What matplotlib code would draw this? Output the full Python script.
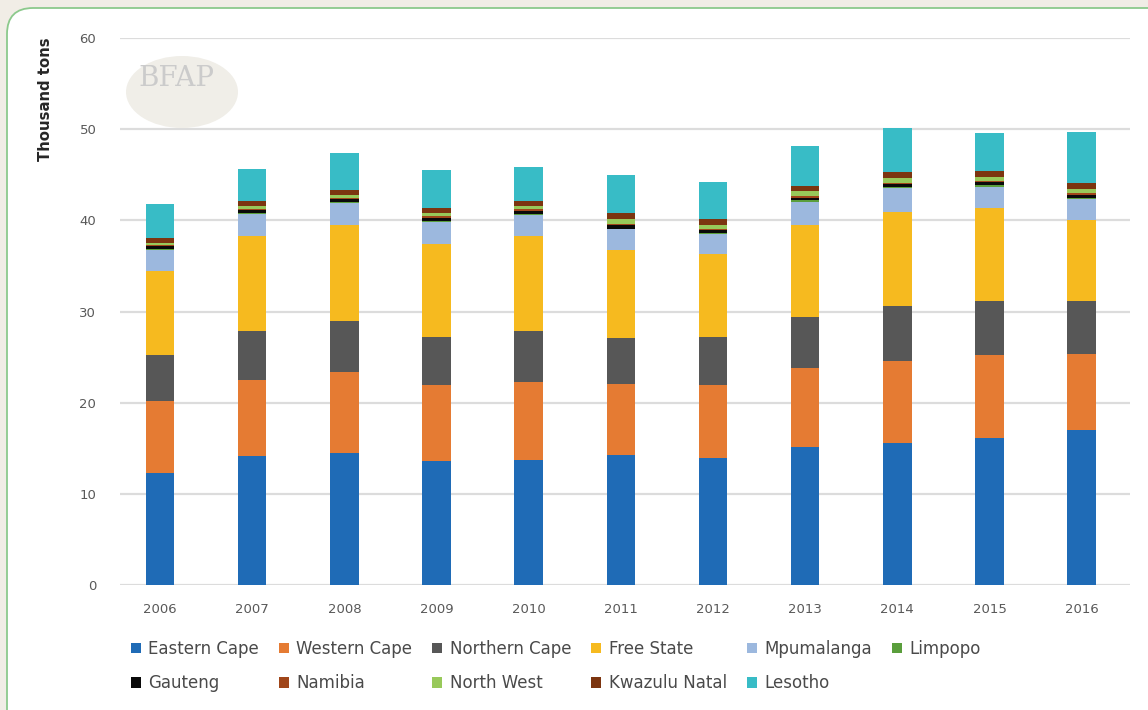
import matplotlib
matplotlib.use("Agg")
import matplotlib.pyplot as plt
import numpy as np
from matplotlib.patches import FancyBboxPatch, Ellipse
from matplotlib.transforms import IdentityTransform

plt.rcParams["font.family"] = ["DejaVu Sans"]

years = ["2006", "2007", "2008", "2009", "2010", "2011", "2012", "2013", "2014", "2015", "2016"]

# thousand tons per province / country
eastern_cape = [12.3, 14.1, 14.5, 13.6, 13.7, 14.3, 13.9, 15.1, 15.6, 16.1, 17.0]
western_cape = [7.85, 8.35, 8.85, 8.3, 8.55, 7.8, 8.05, 8.65, 9.0, 9.1, 8.35]
northern_cape = [5.05, 5.45, 5.65, 5.25, 5.65, 5.0, 5.3, 5.65, 5.95, 6.0, 5.85]
free_state = [9.25, 10.4, 10.5, 10.2, 10.4, 9.7, 9.05, 10.1, 10.4, 10.1, 8.8]
mpumalanga = [2.35, 2.4, 2.4, 2.5, 2.3, 2.2, 2.2, 2.55, 2.55, 2.4, 2.3]
limpopo = [0.05, 0.1, 0.1, 0.1, 0.1, 0.1, 0.1, 0.15, 0.15, 0.15, 0.15]
gauteng = [0.3, 0.3, 0.3, 0.35, 0.35, 0.35, 0.35, 0.3, 0.3, 0.3, 0.35]
namibia = [0.15, 0.15, 0.1, 0.15, 0.15, 0.2, 0.15, 0.15, 0.15, 0.15, 0.15]
north_west = [0.2, 0.35, 0.4, 0.4, 0.4, 0.45, 0.4, 0.55, 0.55, 0.5, 0.5]
kwazulu_natal = [0.6, 0.55, 0.5, 0.55, 0.55, 0.65, 0.6, 0.6, 0.6, 0.6, 0.6]
lesotho = [3.7, 3.45, 4.1, 4.1, 3.65, 4.25, 4.15, 4.35, 4.85, 4.2, 5.65]

series = [
    ("Eastern Cape", eastern_cape, "#1f6bb6"),
    ("Western Cape", western_cape, "#e57b33"),
    ("Northern Cape", northern_cape, "#575757"),
    ("Free State", free_state, "#f6ba1f"),
    ("Mpumalanga", mpumalanga, "#9cb8de"),
    ("Limpopo", limpopo, "#5a9e3c"),
    ("Gauteng", gauteng, "#0a0a0a"),
    ("Namibia", namibia, "#a0461a"),
    ("North West", north_west, "#98c95a"),
    ("Kwazulu Natal", kwazulu_natal, "#7c3510"),
    ("Lesotho", lesotho, "#38bcc6"),
]

fig = plt.figure(figsize=(11.48, 7.10), dpi=100, facecolor="#f1ede6")

# white rounded panel with green border, behind everything
panel = FancyBboxPatch((7, -40), 1180, 742, boxstyle="round,pad=0,rounding_size=26",
                       transform=IdentityTransform(), facecolor="white",
                       edgecolor="#8cc98c", linewidth=1.3, zorder=-10)
fig.patches.append(panel)

ax = fig.add_axes([0.1045, 0.176, 0.8795, 0.7705])
ax.set_facecolor("none")

x = np.arange(len(years))
bottom = np.zeros(len(years))
handles = {}
for name, vals, color in series:
    b = ax.bar(x, vals, width=0.31, bottom=bottom, color=color, label=name, zorder=3)
    handles[name] = b
    bottom += np.array(vals)

ax.set_ylim(0, 60)
ax.set_xlim(-0.434, 10.52)
ax.set_yticks(range(0, 61, 10))
ax.set_xticks(x)
ax.set_xticklabels(years)
ax.yaxis.grid(True, color="#dcdcdc", linewidth=1.6, zorder=0)
ax.set_axisbelow(True)
for s in ax.spines.values():
    s.set_visible(False)
ax.tick_params(axis="both", length=0, colors="#595959", labelsize=9.5)
ax.tick_params(axis="y", pad=17)
ax.tick_params(axis="x", pad=13)

fig.text(45 / 1148, 1 - 37 / 710, "Thousand tons", rotation=90, ha="center", va="top",
         fontsize=10.7, fontweight="bold", color="#262626")

# faint BFAP watermark
wm = Ellipse((182, 710 - 92), 112, 72, transform=IdentityTransform(),
             facecolor="#f0eee8", edgecolor="none", zorder=1)
ax.add_artist(wm)
ax.text(176 / 1148, 1 - 78 / 710, "BFAP", transform=fig.transFigure, ha="center",
        va="center", fontsize=20, family="DejaVu Serif", color="#cbcbcb", zorder=2)

order = ["Eastern Cape", "Gauteng", "Western Cape", "Namibia", "Northern Cape", "North West",
         "Free State", "Kwazulu Natal", "Mpumalanga", "Lesotho", "Limpopo"]
leg = fig.legend([handles[n] for n in order], order, ncol=6, loc="upper left",
                 bbox_to_anchor=(124 / 1148, 1 - 633 / 710), frameon=False,
                 fontsize=12, handlelength=0.6, handleheight=0.6, handletextpad=0.45,
                 columnspacing=1.2, labelspacing=1.0, borderaxespad=0)
for t in leg.get_texts():
    t.set_color("#4a4a4a")

fig.savefig("out.png", dpi=100, facecolor=fig.get_facecolor())
